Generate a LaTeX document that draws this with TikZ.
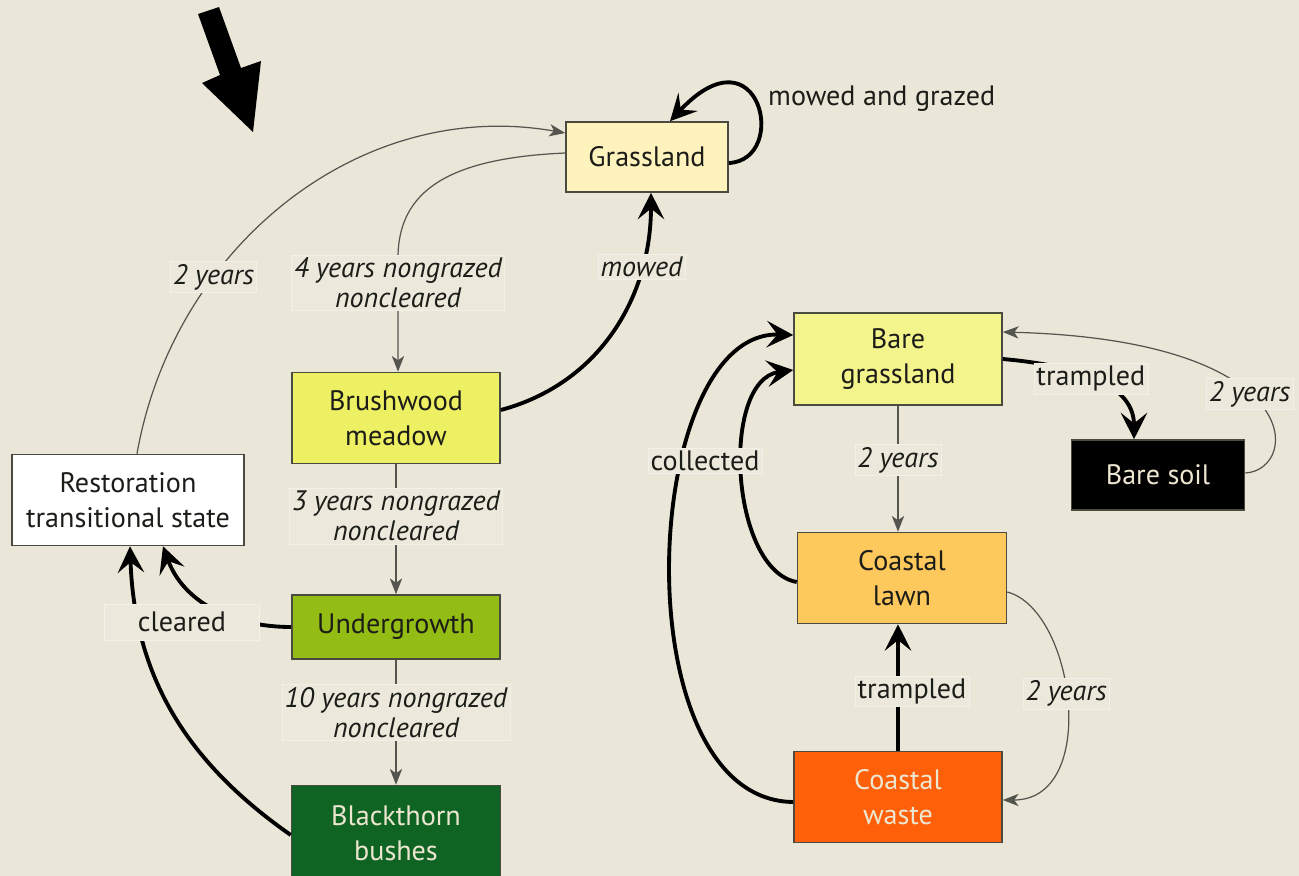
\documentclass[tikz,border=0pt]{standalone}
\usepackage{fontspec}
\setmainfont{PT Sans}
\usetikzlibrary{arrows.meta}
\definecolor{bgbeige}{HTML}{EBE7D8}
\definecolor{grassfill}{HTML}{FEF2BD}
\definecolor{brushfill}{HTML}{EEF063}
\definecolor{underfill}{HTML}{93BD14}
\definecolor{thornfill}{HTML}{0F6424}
\definecolor{baregrassfill}{HTML}{F4F48C}
\definecolor{lawnfill}{HTML}{FDC85C}
\definecolor{wastefill}{HTML}{FE600A}
\definecolor{paletext}{HTML}{EDE6D0}
\definecolor{boxline}{HTML}{4A4A40}
\definecolor{boxtext}{HTML}{1C1C18}
\definecolor{thinline}{HTML}{555550}
\definecolor{lblfill}{HTML}{ECE9DC}
\definecolor{lblline}{HTML}{F2F0E8}
\begin{document}
\begin{tikzpicture}[x=0.02cm,y=-0.02cm,
        state/.style={draw=boxline,line width=0.9pt,align=center,text=boxtext,minimum height=1.82cm,font=\fontsize{16}{20}\selectfont},
        thinarrow/.style={draw=thinline,line width=0.7pt,-{Stealth[length=9pt,width=7pt,inset=2.5pt]}},
        thickarrow/.style={draw=black,line width=2.2pt,-{Stealth[length=15pt,width=15pt,inset=6pt]}},
        lbl/.style={fill=lblfill,draw=lblline,line width=0.3pt,inner sep=1.5pt,text=boxtext,align=center,font=\fontsize{16}{17}\selectfont\itshape},
        plainlbl/.style={lbl,font=\fontsize{16}{17}\selectfont}]
    \useasboundingbox (0,0) rectangle (1299,876);
    \fill[bgbeige] (0,0) rectangle (1299,876);
    \fill[black] (198,14) -- (219,7) -- (241,68) -- (261,61) -- (253,132) -- (202,83) -- (220,75) -- cycle;
    \node[state,fill=grassfill,minimum width=3.24cm,minimum height=1.4cm] (grass) at (647,157) {Grassland};
    \node[state,fill=brushfill,minimum width=4.16cm] (brush) at (396,418) {Brushwood\\meadow};
    \node[state,fill=white,minimum width=4.64cm] (resto) at (128,500) {Restoration\\transitional state};
    \node[state,fill=underfill,minimum width=4.16cm,minimum height=1.28cm] (under) at (396,627) {Undergrowth};
    \node[state,fill=thornfill,text=paletext,minimum width=4.18cm,minimum height=1.9cm] (thorn) at (396,833) {Blackthorn\\bushes};
    \node[state,fill=baregrassfill,minimum width=4.16cm,minimum height=1.84cm] (baregrass) at (898,359) {Bare\\grassland};
    \node[state,fill=black,text=paletext,minimum width=3.46cm,minimum height=1.4cm] (soil) at (1158,475) {Bare soil};
    \node[state,fill=lawnfill,minimum width=4.18cm] (lawn) at (902,578) {Coastal\\lawn};
    \node[state,fill=wastefill,text=paletext,minimum width=4.16cm] (waste) at (898,797) {Coastal\\waste};
    \draw[thinarrow] ([xshift=0.18cm]resto.north) to[out=80,in=170] node[lbl,pos=0.32] {2 years} ([yshift=0.48cm]grass.west);
    \draw[thinarrow] ([yshift=0.08cm]grass.west) .. controls (450,158) and (398,190) .. (398,258) -- node[lbl,pos=0.22] {4 years nongrazed\\noncleared} ([xshift=0.04cm]brush.north);
    \draw[thickarrow] ([yshift=0.16cm]brush.east) to[out=15,in=270] node[lbl,pos=0.75] {mowed} ([xshift=0.08cm]grass.south);
    \draw[thickarrow] ([yshift=-0.12cm]grass.east) .. controls (790,160) and (760,25) .. ([xshift=0.46cm]grass.north);
    \node[anchor=west,text=boxtext,font=\fontsize{16}{17}\selectfont] (loopnote) at (762,99) {mowed and grazed};
    \draw[thinarrow] (brush.south) -- node[lbl,pos=0.4] {3 years nongrazed\\noncleared} (under.north);
    \draw[thinarrow] (under.south) -- node[lbl,pos=0.42] {10 years nongrazed\\noncleared} (thorn.north);
    \draw[thickarrow] ([yshift=-0.04cm]thorn.west) to[out=145,in=-88] ([xshift=0.04cm]resto.south);
    \draw[thickarrow] (under.west) to[out=180,in=-70] ([xshift=0.7cm]resto.south);
    \node[plainlbl,minimum width=3.1cm,minimum height=0.72cm] (clearlbl) at (182,622) {cleared};
    \draw[thickarrow] (baregrass.east) to[out=-5,in=90] node[plainlbl,pos=0.5] {trampled} ([xshift=-0.48cm]soil.north);
    \draw[thinarrow] ([yshift=0.04cm]soil.east) .. controls (1300,470) and (1310,340) .. node[lbl,pos=0.55] {2 years} ([yshift=0.54cm]baregrass.east);
    \draw[thinarrow] (baregrass.south) -- node[lbl,pos=0.43] {2 years} (baregrass.south |- lawn.north);
    \draw[thickarrow] ([yshift=-0.1cm]waste.west) .. controls (620,800) and (640,330) .. ([yshift=0.48cm]baregrass.west);
    \draw[thickarrow] ([yshift=-0.08cm]lawn.west) .. controls (730,570) and (720,380) .. ([yshift=-0.22cm]baregrass.west);
    \node[plainlbl] (collectlbl) at (705,461) {collected};
    \draw[thickarrow] (waste.north) -- node[plainlbl,pos=0.47,xshift=0.28cm] {trampled} (waste.north |- lawn.south);
    \draw[thinarrow] ([yshift=-0.28cm]lawn.east) .. controls (1075,610) and (1100,800) .. node[lbl,pos=0.47] {2 years} ([yshift=-0.06cm]waste.east);
\end{tikzpicture}
\end{document}
